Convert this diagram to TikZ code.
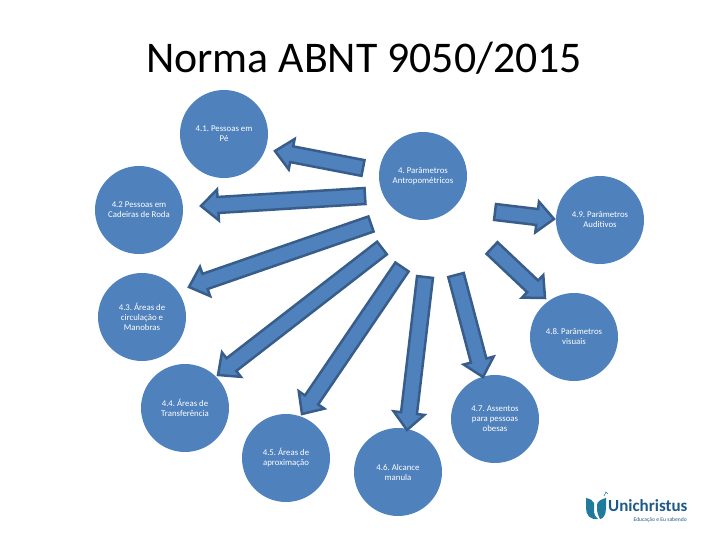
\documentclass[tikz,border=0pt]{standalone}
\usepackage{fontspec}
\setmainfont{Carlito}
\usetikzlibrary{calc}
\definecolor{bubblefill}{HTML}{4F81BD}
\definecolor{bubbleline}{HTML}{385D8A}
\definecolor{logoteal}{HTML}{1F7A9C}
\definecolor{logoblue}{HTML}{1D5A8A}
\tikzset{
  bubble/.style={circle, fill=bubblefill, inner sep=0pt, minimum size=88pt, text=white,
    align=center, font=\fontsize{8.8}{10}\selectfont\frenchspacing},
  bigarrow/.style={draw=bubbleline, fill=bubblefill, line width=2.5pt, line join=miter,
    to path={
      ($(\tikztotarget)!17pt!(\tikztostart)$) coordinate (neck)
      ($(\tikztostart)!8pt!90:(\tikztotarget)$)
      -- ($(neck)!8pt!90:(\tikztotarget)$)
      -- ($(neck)!15.5pt!90:(\tikztotarget)$)
      -- (\tikztotarget)
      -- ($(neck)!15.5pt!-90:(\tikztotarget)$)
      -- ($(neck)!8pt!-90:(\tikztotarget)$)
      -- ($(\tikztostart)!8pt!-90:(\tikztotarget)$)
      -- cycle}}
}
\begin{document}
\begin{tikzpicture}[x=1pt, y=-1pt]
  \useasboundingbox (0,0) rectangle (720,540);
  \node[font=\fontsize{43.8}{50}\selectfont] (title) at (364,58) {Norma ABNT 9050/2015};

  \node[bubble] (p0) at (423,176) {4. Parâmetros\\Antropométricos};
  \node[bubble] (p1) at (224,134) {4.1. Pessoas em\\Pé};
  \node[bubble] (p2) at (139,210) {4.2 Pessoas em\\Cadeiras de Roda};
  \node[bubble] (p3) at (142,317) {4.3. Áreas de\\circulação e\\Manobras};
  \node[bubble] (p4) at (185,408) {4.4. Áreas de\\Transferência};
  \node[bubble] (p5) at (286,458) {4.5. Áreas de\\aproximação};
  \node[bubble] (p6) at (398,472) {4.6. Alcance\\manula};
  \node[bubble] (p7) at (495,419) {4.7. Assentos\\para pessoas\\obesas};
  \node[bubble] (p8) at (574,337) {4.8. Parâmetros\\visuais};
  \node[bubble] (p9) at (600,220) {4.9. Parâmetros\\Auditivos};

  % arrows do not touch the circles
  \foreach \i/\tx/\ty/\hx/\hy in {1/363/168/275/151, 2/365/196/201/206, 3/371/224/189/287,
      4/382/248/218/375, 5/402/267/302/414, 6/425/277/407/430,
      7/456/275/483/377, 8/492/248/545/298, 9/495/212/554/219} {
    \coordinate (t\i) at (\tx,\ty);
    \coordinate (h\i) at (\hx,\hy);
    \draw[bigarrow] (t\i) to (h\i);
  }

  % logo
  \fill[logoteal] (586,498) .. controls (590,499) and (593,500) .. (594,503) -- (594,512)
    .. controls (594,515) and (596,517) .. (598,519) .. controls (590,520) and (586,515) .. (586,508) -- cycle;
  \fill[logoteal] (606,498) -- (606,508) .. controls (606,515) and (603,519) .. (600,519)
    .. controls (598,515) and (597,512) .. (597,508) -- (597,505) .. controls (597,501) and (602,499) .. (606,498);
  \draw[logoteal, line width=.6pt] (604,496) -- (606,492) -- (608,494);
  \node[text=logoblue, font=\fontsize{17}{18}\bfseries\selectfont, anchor=west, inner sep=0pt] (logo) at (608,506) {Unichristus};
  \node[text=logoblue, font=\fontsize{5.6}{6}\selectfont, anchor=east, inner sep=0pt] (motto) at (687,520) {Educação e Eu sabendo};
\end{tikzpicture}
\end{document}
